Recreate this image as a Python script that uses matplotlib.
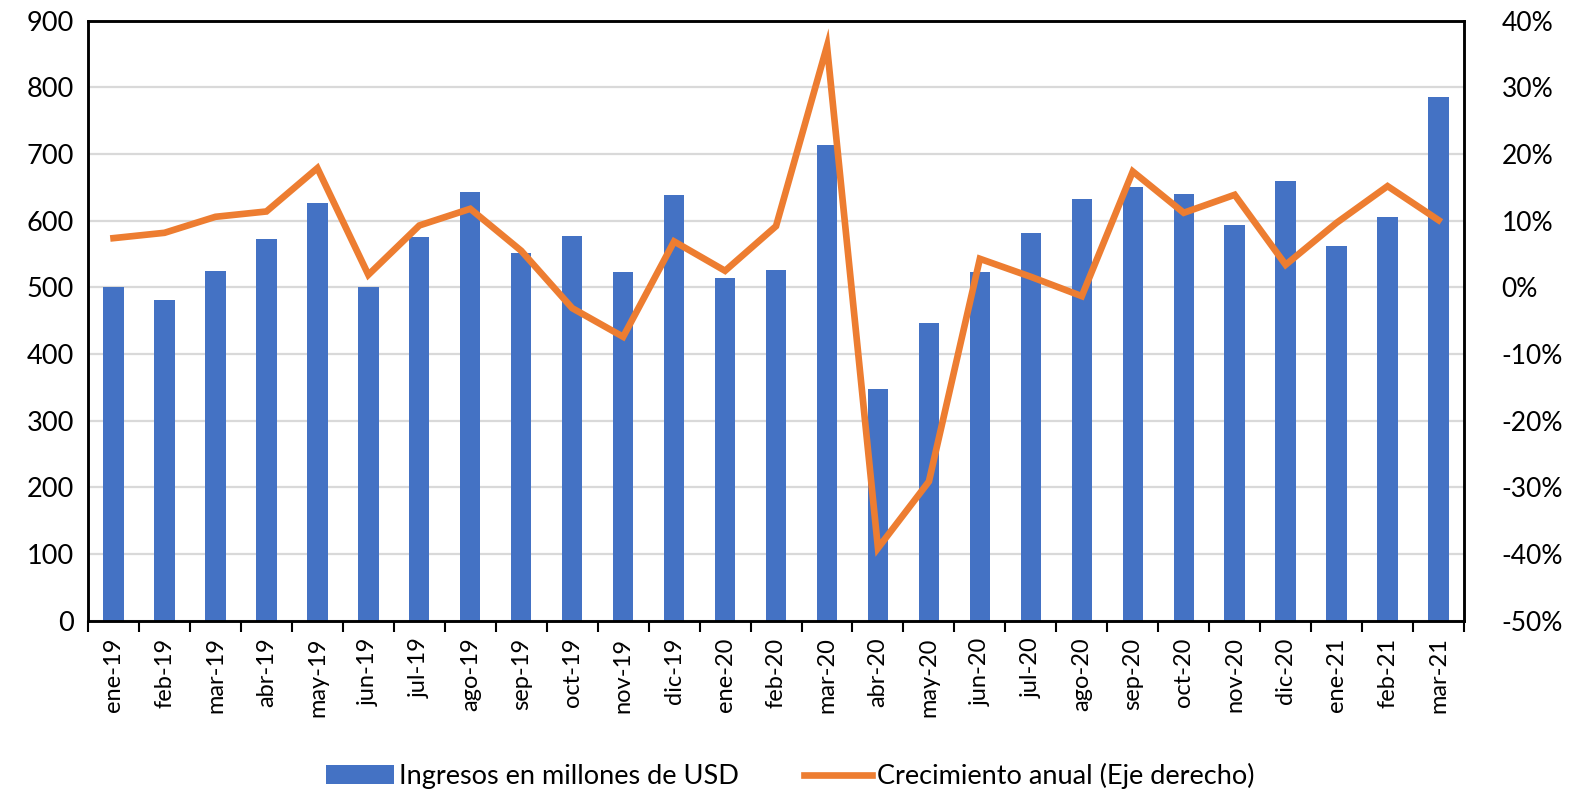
import matplotlib
matplotlib.use("Agg")
import matplotlib.pyplot as plt
import matplotlib.ticker as ticker
import numpy as np

months = ["ene-19", "feb-19", "mar-19", "abr-19", "may-19", "jun-19", "jul-19",
          "ago-19", "sep-19", "oct-19", "nov-19", "dic-19", "ene-20", "feb-20",
          "mar-20", "abr-20", "may-20", "jun-20", "jul-20", "ago-20", "sep-20",
          "oct-20", "nov-20", "dic-20", "ene-21", "feb-21", "mar-21"]
ingresos = [500, 481, 525, 572, 626, 501, 575, 643, 552, 577, 523, 638, 514, 526,
            713, 347, 447, 523, 581, 633, 650, 640, 593, 660, 562, 606, 786]
crecimiento = [7.4, 8.2, 10.6, 11.4, 17.9, 1.9, 9.3, 11.8, 5.5, -3.1, -7.4, 6.9,
               2.5, 9.2, 36.2, -39.1, -29.1, 4.3, 1.6, -1.3, 17.4, 11.2, 13.9,
               3.4, 9.7, 15.2, 10.1]

plt.rcParams['font.family'] = ['Lato', 'DejaVu Sans']

fig = plt.figure(figsize=(15.81, 8), dpi=100)
ax = fig.add_axes([0.0557, 0.224, 0.8703, 0.750])
ax2 = ax.twinx()

x = np.arange(len(months))
ax.bar(x, ingresos, width=0.4, color="#4472C4", zorder=2,
       label="Ingresos en millones de USD")
ax2.plot(x, crecimiento, color="#ED7D31", lw=4.8, solid_joinstyle="miter",
         label="Crecimiento anual (Eje derecho)", zorder=3)

ax.set_xlim(-0.5, len(months) - 0.5)
ax.set_ylim(0, 900)
ax.yaxis.set_major_locator(ticker.MultipleLocator(100))
ax2.set_ylim(-50, 40)
ax2.yaxis.set_major_locator(ticker.MultipleLocator(10))
ax2.yaxis.set_major_formatter(ticker.FuncFormatter(lambda v, p: f"{v:.0f}%"))

ax.grid(axis="y", color="#D9D9D9", lw=1.6, zorder=0)
ax.set_axisbelow(True)

ax.set_xticks(x)
ax.set_xticklabels(months, rotation=90, fontsize=17)
ax.set_xticks(np.arange(-0.5, len(months)), minor=True)
ax.tick_params(axis="x", which="major", length=0, pad=12)
ax.tick_params(axis="x", which="minor", length=8, width=1.5, direction="out")
ax.tick_params(axis="y", length=0, labelsize=19.5, pad=10)
ax2.tick_params(axis="y", length=0, labelsize=19, pad=27)

for a in (ax, ax2):
    for s in a.spines.values():
        s.set_color("black")
        s.set_linewidth(1.8)

h1, l1 = ax.get_legend_handles_labels()
h2, l2 = ax2.get_legend_handles_labels()
fig.legend(h1 + h2, l1 + l2, loc="center", bbox_to_anchor=(0.5, 0.03),
           ncol=2, frameon=False, fontsize=19.5, handlelength=2.5,
           columnspacing=2.4, handletextpad=0.2)

fig.savefig("out.png", dpi=100)
